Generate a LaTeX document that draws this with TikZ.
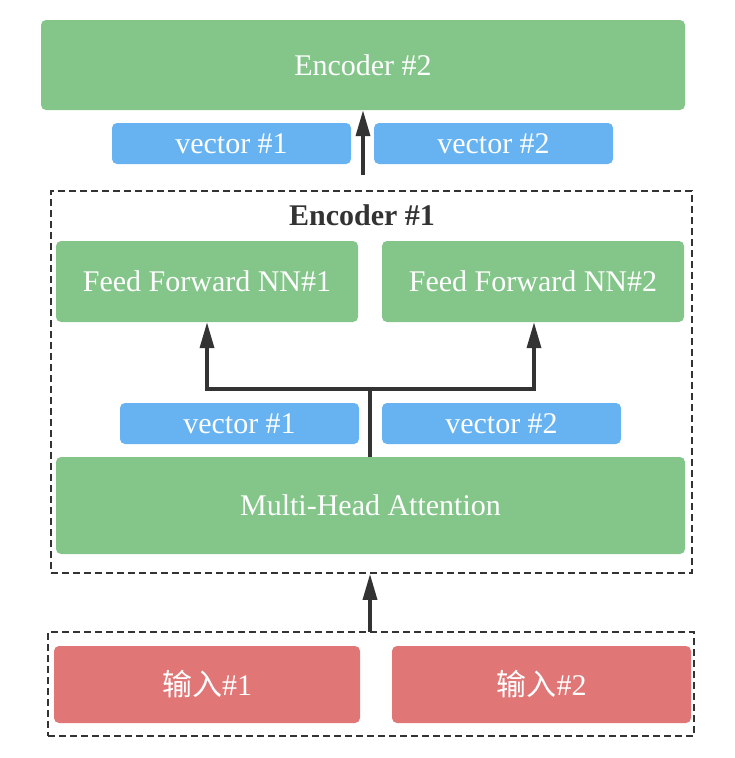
\documentclass[tikz,border=0pt]{standalone}
\usepackage{fontspec}
\setmainfont{Liberation Serif}
\newfontfamily\cjk{Noto Sans CJK SC}
\usetikzlibrary{arrows.meta}
\definecolor{gbox}{HTML}{84C68A}
\definecolor{bbox}{HTML}{67B3F1}
\definecolor{rbox}{HTML}{E07676}
\definecolor{dk}{HTML}{333333}
\tikzset{
  pbox/.style={draw=none, rounded corners=5pt, inner sep=0pt, text=white,
    font=\fontsize{30}{32}\selectfont},
  gb/.style={pbox, fill=gbox},
  bb/.style={pbox, fill=bbox},
  rb/.style={pbox, fill=rbox},
  dbox/.style={draw=dk, line width=1.8pt, dash pattern=on 7pt off 4pt},
  arr/.style={draw=dk, line width=3.5pt, -{Triangle[length=26pt,width=14pt]}},
  ln/.style={draw=dk, line width=3.5pt}
}
\begin{document}
\begin{tikzpicture}[x=1pt,y=-1pt]
\useasboundingbox (0,0) rectangle (734,758);
% Encoder #2
\node[gb, minimum width=644pt, minimum height=90pt] (enc2) at (363,65) {Encoder \#2};
\node[bb, minimum width=239pt, minimum height=41pt] (tv1) at (231.5,143.5) {vector \#1};
\node[bb, minimum width=239pt, minimum height=41pt] (tv2) at (493.5,143.5) {vector \#2};
\coordinate (a2s) at (363,175);
\draw[arr] (a2s) -- (enc2.south -| a2s);
% Encoder #1 frame
\node[dbox, minimum width=641pt, minimum height=382pt, inner sep=0pt] (enc1) at (371.5,382) {};
\node[text=dk, font=\bfseries\fontsize{30}{32}\selectfont] (enc1t) at (362,215) {Encoder \#1};
\node[gb, minimum width=302pt, minimum height=81pt] (ff1) at (207,281.5) {Feed Forward NN\#1};
\node[gb, minimum width=302pt, minimum height=81pt] (ff2) at (533,281.5) {Feed Forward NN\#2};
\node[bb, minimum width=239pt, minimum height=41pt] (mv1) at (239.5,423.5) {vector \#1};
\node[bb, minimum width=239pt, minimum height=41pt] (mv2) at (501.5,423.5) {vector \#2};
\node[gb, minimum width=629pt, minimum height=97pt] (mha) at (370.5,505.5) {Multi-Head Attention};
\coordinate (br) at (370,389);
\coordinate (bl) at (207,389);
\coordinate (brr) at (534,389);
\draw[ln] (mha.north -| br) -- (br);
\draw[arr] (br) -- (bl) -- (ff1.south -| bl);
\draw[arr] (br) -- (brr) -- (ff2.south -| brr);
% inputs
\node[dbox, minimum width=646pt, minimum height=104pt, inner sep=0pt] (inp) at (371,684) {};
\node[rb, minimum width=306pt, minimum height=77pt] (in1) at (207,684.5) {{\cjk 输入}\#1};
\node[rb, minimum width=299pt, minimum height=77pt] (in2) at (541.5,684.5) {{\cjk 输入}\#2};
\coordinate (ia) at (370,632);
\draw[arr] (ia) -- (enc1.south -| ia);
\end{tikzpicture}
\end{document}
